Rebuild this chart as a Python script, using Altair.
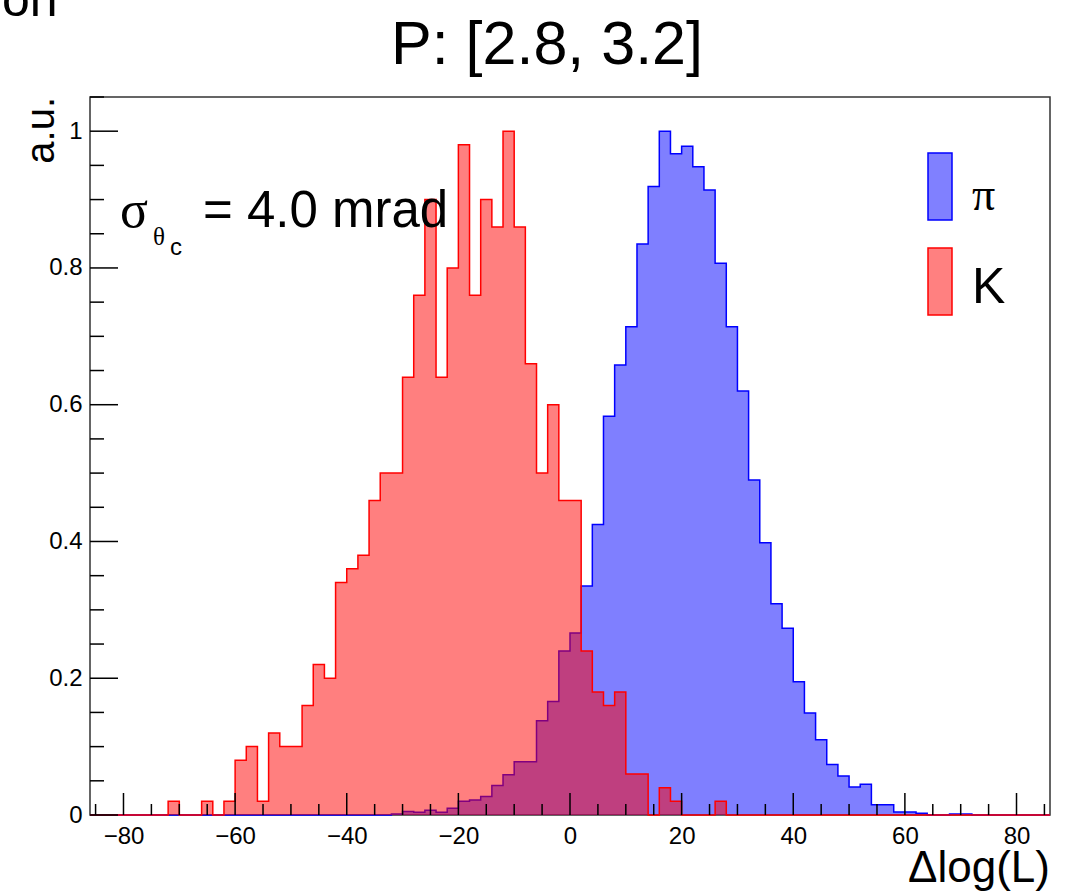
import altair as alt
import pandas as pd

# Bin left edges (bin width 2, range -86..86)
bin_lefts = list(range(-86, 86, 2))

# K (red) histogram, normalised, by bin left edge
kaon = {
    -72: 0.02, -66: 0.02, -62: 0.02, -60: 0.08, -58: 0.10, -56: 0.02,
    -54: 0.12, -52: 0.10, -50: 0.10, -48: 0.16, -46: 0.22, -44: 0.20,
    -42: 0.34, -40: 0.36, -38: 0.38, -36: 0.46, -34: 0.50, -32: 0.50,
    -30: 0.64, -28: 0.76, -26: 0.90, -24: 0.64, -22: 0.80, -20: 0.98,
    -18: 0.76, -16: 0.90, -14: 0.86, -12: 1.00, -10: 0.86, -8: 0.66,
    -6: 0.50, -4: 0.60, -2: 0.46, 0: 0.46, 2: 0.24, 4: 0.18, 6: 0.16,
    8: 0.18, 10: 0.06, 12: 0.06, 16: 0.04, 18: 0.02, 26: 0.02,
}

# pi (blue) histogram, normalised, by bin left edge
pion = {
    -32: 0.0015, -30: 0.005, -28: 0.004, -26: 0.007, -24: 0.004, -22: 0.010,
    -20: 0.020, -18: 0.022, -16: 0.027, -14: 0.043, -12: 0.059, -10: 0.078,
    -8: 0.078, -6: 0.138, -4: 0.166, -2: 0.240, 0: 0.266, 2: 0.335,
    4: 0.425, 6: 0.583, 8: 0.658, 10: 0.714, 12: 0.835, 14: 0.919,
    16: 1.000, 18: 0.967, 20: 0.978, 22: 0.948, 24: 0.914, 26: 0.807,
    28: 0.714, 30: 0.620, 32: 0.490, 34: 0.398, 36: 0.309, 38: 0.273,
    40: 0.195, 42: 0.149, 44: 0.110, 46: 0.074, 48: 0.057, 50: 0.041,
    52: 0.045, 54: 0.015, 56: 0.015, 58: 0.0044, 60: 0.0044, 62: 0.0025,
    68: 0.0015, 70: 0.0015,
}

x_major = [-80, -60, -40, -20, 0, 20, 40, 60, 80]
x_minor = [v for v in range(-85, 86, 5) if v % 20 != 0]
y_major = [0, 0.2, 0.4, 0.6, 0.8, 1.0]
y_minor = [0.05, 0.1, 0.15, 0.25, 0.3, 0.35, 0.45, 0.5, 0.55, 0.65, 0.7,
           0.75, 0.85, 0.9, 0.95, 1.05]

W, H = 960, 718
FONT = "Liberation Sans"


def step_frame(d):
    xs = bin_lefts + [86]
    vals = [d.get(b, 0.0) for b in bin_lefts]
    vals = vals + [vals[-1]]
    return pd.DataFrame({"x": xs, "y": vals})


xs = alt.Scale(domain=[-86, 86], nice=False, zero=False)
ys = alt.Scale(domain=[0, 1.05], nice=False, zero=True)

pi_df = step_frame(pion)
k_df = step_frame(kaon)

x_axis = alt.Axis(values=x_major, ticks=False, domain=False, grid=False,
                  labelFontSize=24, labelFont=FONT, labelColor="black",
                  labelPadding=9, title=None, labelFlush=False, format="d")
y_axis = alt.Axis(values=y_major, ticks=False, domain=False, grid=False,
                  labelFontSize=24, labelFont=FONT, labelColor="black",
                  labelPadding=8, title=None, labelFlush=False, format=".1~f")

pi_area = alt.Chart(pi_df).mark_area(interpolate="step-after", fill="#0000ff",
                                     fillOpacity=0.5).encode(
    x=alt.X("x:Q", scale=xs, axis=x_axis),
    y=alt.Y("y:Q", scale=ys, axis=y_axis),
)
pi_line = alt.Chart(pi_df).mark_line(interpolate="step-after", color="#0000ff",
                                     strokeWidth=1.5).encode(
    x=alt.X("x:Q", scale=xs), y=alt.Y("y:Q", scale=ys))
k_area = alt.Chart(k_df).mark_area(interpolate="step-after", fill="#ff0000",
                                   fillOpacity=0.5).encode(
    x=alt.X("x:Q", scale=xs), y=alt.Y("y:Q", scale=ys))
k_line = alt.Chart(k_df).mark_line(interpolate="step-after", color="#ff0000",
                                   strokeWidth=1.5).encode(
    x=alt.X("x:Q", scale=xs), y=alt.Y("y:Q", scale=ys))

# inward ticks
xmaj = alt.Chart(pd.DataFrame({"v": x_major})).mark_rule(color="black", strokeWidth=1.5).encode(
    x=alt.X("v:Q", scale=xs), y=alt.value(H), y2=alt.value(H - 22))
xmin = alt.Chart(pd.DataFrame({"v": x_minor})).mark_rule(color="black", strokeWidth=1.5).encode(
    x=alt.X("v:Q", scale=xs), y=alt.value(H), y2=alt.value(H - 11))
ymaj = alt.Chart(pd.DataFrame({"v": y_major})).mark_rule(color="black", strokeWidth=1.5).encode(
    y=alt.Y("v:Q", scale=ys), x=alt.value(0), x2=alt.value(28))
ymin = alt.Chart(pd.DataFrame({"v": y_minor})).mark_rule(color="black", strokeWidth=1.5).encode(
    y=alt.Y("v:Q", scale=ys), x=alt.value(0), x2=alt.value(14))

dummy = pd.DataFrame({"a": [0]})


def txt(s, x, y, size, font=FONT, align="left", baseline="alphabetic",
        angle=0, weight="normal"):
    return alt.Chart(dummy).mark_text(
        text=s, font=font, fontSize=size, align=align, baseline=baseline,
        angle=angle, color="black", fontWeight=weight).encode(
        x=alt.value(x), y=alt.value(y))


texts = [
    txt("P: [2.8, 3.2]", 457, -33, 61, align="center"),
    txt("on", -88, -81, 50),
    txt("a.u.", -36, 0, 40, align="right", angle=270),
    txt("\u0394log(L)", W, 785, 44, align="right"),
    txt("\u03c3", 30, 130, 52, font="Liberation Serif"),
    txt("\u03b8", 63, 148, 25, font="Liberation Serif"),
    txt("c", 80, 158, 24),
    txt("= 4.0 mrad", 113, 130, 51),
    txt("\u03c0", 882, 113, 46, font="Liberation Serif"),
    txt("K", 882, 206, 50),
]

leg_pi = alt.Chart(dummy).mark_rect(fill="#8080ff", stroke="#0000ff", strokeWidth=1.5).encode(
    x=alt.value(838), x2=alt.value(862), y=alt.value(56), y2=alt.value(123))
leg_k = alt.Chart(dummy).mark_rect(fill="#ff8080", stroke="#ff0000", strokeWidth=1.5).encode(
    x=alt.value(838), x2=alt.value(862), y=alt.value(151), y2=alt.value(218))

chart = alt.layer(
    pi_area, pi_line, k_area, k_line, xmaj, xmin, ymaj, ymin, leg_pi, leg_k, *texts
).properties(
    width=W, height=H,
    autosize=alt.AutoSizeParams(type="none"),
    padding={"left": 90, "top": 97, "right": 27, "bottom": 79},
).configure_view(stroke="#333333", strokeWidth=1.5)

chart.save("out.html", embed_options={"renderer": "svg", "actions": False})
